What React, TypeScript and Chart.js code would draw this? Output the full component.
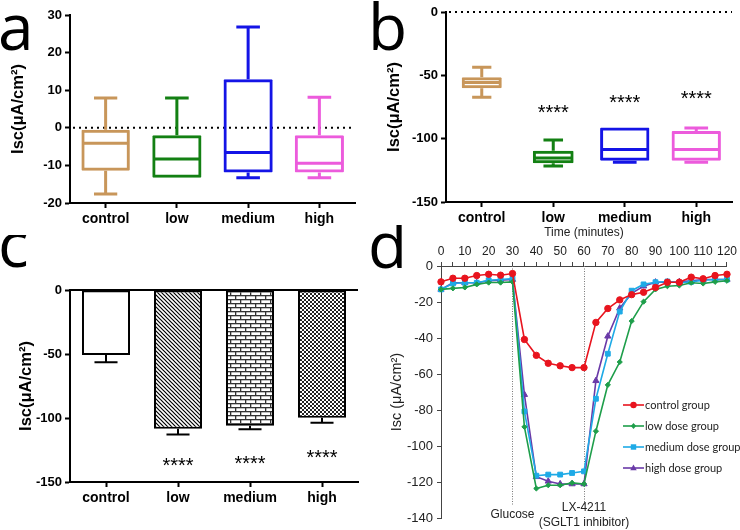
import React, { useEffect, useRef } from "react";
import { Chart, registerables } from "chart.js";
Chart.register(...registerables);

const FONT = "Liberation Sans";
const LETTER_FONT = "Open Sans";
const LEGEND_FONT = "Lato";

// ---------- Panel a (box plot) ----------
const boxCategories = ["control", "low", "medium", "high"];
const boxColors = ["#C8965A", "#138013", "#1414E6", "#EC5BDC"];
const aMin = [-17.6, -13.3, -13.3, -13.3];
const aQ1 = [-11.4, -13.3, -11.9, -11.9];
const aMedian = [-4.1, -8.3, -6.6, -9.4];
const aQ3 = [-0.5, -2.0, 12.9, -2.0];
const aMax = [7.9, 7.9, 26.8, 8.1];
const aWidths = [0.68, 0.69, 0.69, 0.69];

// ---------- Panel b (box plot) ----------
const bMin = [-67.3, -121.5, -118.6, -118.6];
const bQ1 = [-60.2, -119.5, -117.5, -117.5];
const bMedian = [-55.7, -115.3, -108.5, -108.5];
const bQ3 = [-51.5, -109.6, -91.1, -94.0];
const bMax = [-43.6, -101.1, -91.1, -91.6];
const bWidths = [0.56, 0.57, 0.69, 0.69];
const bStars = ["", "****", "****", "****"];
const bStarY = [0, -76.6, -68.7, -65.5];

// ---------- Panel c (bar chart) ----------
const cMean = [-50.7, -108.4, -106.0, -99.8];
const cSem = [5.8, 4.5, 2.8, 3.9];
const cStars = ["", "****", "****", "****"];
const cStarY = [0, -134.4, -133.0, -128.3];

// ---------- Panel d (time course) ----------
const dTime = [0, 5, 10, 15, 20, 25, 30, 35, 40, 45, 50, 55, 60, 65, 70, 75, 80, 85, 90, 95, 100, 105, 110, 115, 120];
const dControl = [-8.8, -6.8, -6.8, -5.3, -4.6, -5.1, -4.2, -40.8, -49.6, -54.0, -55.4, -56.4, -56.4, -31.3, -23.6, -18.8, -15.9, -14.6, -11.9, -9.0, -9.0, -6.2, -7.1, -5.3, -4.6];
const dLow = [-13.0, -12.4, -11.9, -10.2, -9.2, -9.2, -8.8, -89.3, -123.5, -121.7, -121.7, -120.4, -121.0, -91.7, -66.0, -53.3, -30.6, -19.8, -13.0, -11.2, -10.8, -9.3, -9.7, -8.8, -8.2];
const dMedium = [-13.0, -9.7, -9.3, -9.3, -7.9, -7.5, -7.0, -80.7, -116.4, -115.8, -115.8, -114.9, -114.0, -73.7, -48.7, -25.3, -13.7, -10.2, -9.0, -8.6, -9.3, -8.8, -7.9, -7.5, -7.5];
const dHigh = [-13.0, -9.3, -9.3, -9.3, -8.2, -7.9, -7.5, -71.4, -117.0, -119.5, -121.0, -121.0, -121.0, -63.7, -39.0, -23.4, -15.2, -11.2, -9.0, -9.0, -8.8, -8.2, -7.5, -7.5, -7.5];
const dSeriesNames = ["control group", "low dose group", "medium dose group", "high dose group"];
const dColors = ["#E8141E", "#1E9E4A", "#1EAAE6", "#6A3AA8"];
const dPointStyles = ["circle", "rectRot", "rect", "triangle"];
const dPointRadius = [3.2, 2.6, 3.4, 3.6];
const dEvents = [30, 60];
const dEventLabels = [["Glucose"], ["LX-4211", "(SGLT1 inhibitor)"]];

type Build = (ctx: CanvasRenderingContext2D) => any;

function letterPlugin(letter: string, x: number, y: number, size: number) {
  return {
    id: "letter",
    afterDraw(chart: any) {
      const ctx = chart.ctx;
      ctx.save();
      ctx.fillStyle = "#000";
      ctx.font = `${size}px "${LETTER_FONT}"`;
      ctx.textAlign = "left";
      ctx.textBaseline = "alphabetic";
      ctx.fillText(letter, x, y);
      ctx.restore();
    },
  };
}

function drawStars(chart: any, stars: string[], starY: number[]) {
  const { ctx, scales } = chart;
  ctx.save();
  ctx.fillStyle = "#000";
  ctx.font = `20px "${FONT}"`;
  ctx.textAlign = "center";
  ctx.textBaseline = "alphabetic";
  stars.forEach((s, i) => {
    if (!s) return;
    const m = ctx.measureText(s);
    const off = (m.actualBoundingBoxAscent - m.actualBoundingBoxDescent) / 2;
    ctx.fillText(s, scales.x.getPixelForValue(i), scales.y.getPixelForValue(starY[i]) + off);
  });
  ctx.restore();
}

function catAxisX(height: number) {
  return {
    type: "category",
    labels: boxCategories,
    offset: true,
    grid: { drawOnChartArea: false, offset: false, tickLength: 5, tickWidth: 2, color: "#000" },
    border: { display: true, color: "#000", width: 2 },
    ticks: { font: { family: FONT, size: 14, weight: "bold" }, color: "#000", padding: 3, maxRotation: 0 },
    afterFit: (s: any) => {
      s.height = height;
    },
  };
}

function valAxisY(min: number, max: number, step: number, width: number) {
  return {
    min,
    max,
    ticks: { stepSize: step, font: { family: FONT, size: 13, weight: "bold" }, color: "#000", padding: 3 },
    grid: { drawOnChartArea: false, tickLength: 5, tickWidth: 2, color: "#000" },
    border: { display: true, color: "#000", width: 2 },
    title: {
      display: true,
      text: "Isc(μA/cm²)",
      font: { family: FONT, size: 16.5, weight: "bold" },
      color: "#000",
      padding: { top: 3, bottom: 0 },
    },
    afterFit: (s: any) => {
      s.width = width;
    },
  };
}

function boxChart(
  mins: number[], q1: number[], med: number[], q3: number[], maxs: number[], widths: number[],
  yMin: number, yMax: number, step: number, pad: any, yWidth: number, xHeight: number,
  letter: string, stars: string[] | null, starY: number[] | null
): Build {
  return () => ({
    type: "bar",
    data: {
      labels: boxCategories,
      datasets: boxCategories.map((c, i) => ({
        label: c,
        data: boxCategories.map((_, j) => (j === i ? [q1[i], q3[i]] : null)),
        backgroundColor: "rgba(0,0,0,0)",
        borderColor: boxColors[i],
        borderWidth: 3,
        borderSkipped: false,
        borderRadius: 1,
        barPercentage: widths[i],
        categoryPercentage: 1,
        grouped: false,
      })),
    },
    options: {
      responsive: false,
      animation: false,
      layout: { padding: pad },
      plugins: { legend: { display: false }, tooltip: { enabled: false } },
      scales: { x: catAxisX(xHeight), y: valAxisY(yMin, yMax, step, yWidth) },
    },
    plugins: [
      {
        id: "boxExtras",
        beforeDatasetsDraw(chart: any) {
          const { ctx, chartArea, scales } = chart;
          const y0 = scales.y.getPixelForValue(0);
          ctx.save();
          ctx.strokeStyle = "#000";
          ctx.lineWidth = 2;
          ctx.setLineDash([2, 4]);
          ctx.beginPath();
          ctx.moveTo(chartArea.left + 3, y0);
          ctx.lineTo(chartArea.right, y0);
          ctx.stroke();
          ctx.restore();
        },
        afterDatasetsDraw(chart: any) {
          const { ctx, scales } = chart;
          const y = scales.y;
          ctx.save();
          ctx.lineWidth = 3;
          ctx.lineCap = "butt";
          boxCategories.forEach((_, i) => {
            const el = chart.getDatasetMeta(i).data[i];
            const { x: cx, width: w } = el.getProps(["x", "width"], true);
            const cap = w * 0.48;
            ctx.strokeStyle = boxColors[i];
            ctx.beginPath();
            ctx.moveTo(cx - w / 2 + 1, y.getPixelForValue(med[i]));
            ctx.lineTo(cx + w / 2 - 1, y.getPixelForValue(med[i]));
            if (maxs[i] > q3[i] + 0.3) {
              ctx.moveTo(cx, y.getPixelForValue(q3[i]));
              ctx.lineTo(cx, y.getPixelForValue(maxs[i]));
              ctx.moveTo(cx - cap / 2, y.getPixelForValue(maxs[i]));
              ctx.lineTo(cx + cap / 2, y.getPixelForValue(maxs[i]));
            }
            if (mins[i] < q1[i] - 0.3) {
              ctx.moveTo(cx, y.getPixelForValue(q1[i]));
              ctx.lineTo(cx, y.getPixelForValue(mins[i]));
              ctx.moveTo(cx - cap / 2, y.getPixelForValue(mins[i]));
              ctx.lineTo(cx + cap / 2, y.getPixelForValue(mins[i]));
            }
            ctx.stroke();
          });
          ctx.restore();
          if (stars && starY) drawStars(chart, stars, starY);
        },
      },
      letterPlugin(letter, -2, 50, 64),
    ],
  });
}

function makePattern(kind: string, ctx: CanvasRenderingContext2D): any {
  const c = document.createElement("canvas");
  const g = c.getContext("2d")!;
  if (kind === "diag") {
    c.width = 4;
    c.height = 4;
    g.fillStyle = "#fff";
    g.fillRect(0, 0, 4, 4);
    g.strokeStyle = "#000";
    g.lineWidth = 1.2;
    g.beginPath();
    g.moveTo(-1, -1);
    g.lineTo(5, 5);
    g.moveTo(-1, 3);
    g.lineTo(1, 5);
    g.moveTo(3, -1);
    g.lineTo(5, 1);
    g.stroke();
  } else if (kind === "brick") {
    c.width = 10;
    c.height = 8;
    g.fillStyle = "#fff";
    g.fillRect(0, 0, 10, 8);
    g.fillStyle = "#333";
    g.fillRect(0, 0, 10, 1.3);
    g.fillRect(0, 4, 10, 1.3);
    g.fillRect(0, 0, 1.3, 4);
    g.fillRect(5, 4, 1.3, 4);
  } else {
    c.width = 4;
    c.height = 4;
    g.fillStyle = "#fff";
    g.fillRect(0, 0, 4, 4);
    g.fillStyle = "#222";
    g.fillRect(0, 0, 2, 2);
    g.fillRect(2, 2, 2, 2);
  }
  return ctx.createPattern(c, "repeat");
}

const buildC: Build = (ctx) => ({
  type: "bar",
  data: {
    labels: boxCategories,
    datasets: [
      {
        data: cMean,
        backgroundColor: ["#fff", makePattern("diag", ctx), makePattern("brick", ctx), makePattern("check", ctx)],
        borderColor: "#000",
        borderWidth: 2,
        borderSkipped: false,
        barPercentage: 0.667,
        categoryPercentage: 1,
      },
    ],
  },
  options: {
    responsive: false,
    animation: false,
    layout: { padding: { left: 14, right: 12, top: 55, bottom: 18 } },
    plugins: { legend: { display: false }, tooltip: { enabled: false } },
    scales: { x: catAxisX(30), y: valAxisY(-150, 0, 50, 56) },
  },
  plugins: [
    {
      id: "errorBars",
      afterDatasetsDraw(chart: any) {
        const { ctx, chartArea, scales } = chart;
        const meta = chart.getDatasetMeta(0);
        ctx.save();
        ctx.strokeStyle = "#000";
        ctx.lineWidth = 2;
        cMean.forEach((m, i) => {
          const { x: cx, width: w } = meta.data[i].getProps(["x", "width"], true);
          const yb = scales.y.getPixelForValue(m);
          const ye = scales.y.getPixelForValue(m - cSem[i]);
          const cap = w * 0.48;
          ctx.beginPath();
          ctx.moveTo(cx, yb);
          ctx.lineTo(cx, ye);
          ctx.moveTo(cx - cap / 2, ye);
          ctx.lineTo(cx + cap / 2, ye);
          ctx.stroke();
        });
        const y0 = scales.y.getPixelForValue(0);
        ctx.beginPath();
        ctx.moveTo(chartArea.left, y0);
        ctx.lineTo(chartArea.right, y0);
        ctx.stroke();
        ctx.restore();
        drawStars(chart, cStars, cStarY);
      },
    },
    letterPlugin("c", -2, 32, 64),
  ],
});

const dSeries = [dControl, dLow, dMedium, dHigh];

function drawMarker(ctx: CanvasRenderingContext2D, style: string, x: number, y: number, r: number, color: string) {
  ctx.save();
  ctx.fillStyle = color;
  ctx.beginPath();
  if (style === "circle") {
    ctx.arc(x, y, r, 0, Math.PI * 2);
  } else if (style === "rect") {
    ctx.rect(x - r * 0.8, y - r * 0.8, r * 1.6, r * 1.6);
  } else if (style === "rectRot") {
    ctx.moveTo(x, y - r * 1.2);
    ctx.lineTo(x + r, y);
    ctx.lineTo(x, y + r * 1.2);
    ctx.lineTo(x - r, y);
    ctx.closePath();
  } else {
    ctx.moveTo(x, y - r);
    ctx.lineTo(x + r * 0.9, y + r * 0.6);
    ctx.lineTo(x - r * 0.9, y + r * 0.6);
    ctx.closePath();
  }
  ctx.fill();
  ctx.restore();
}

const buildD: Build = () => ({
  type: "line",
  data: {
    datasets: dSeries.map((s, k) => ({
      label: dSeriesNames[k],
      data: dTime.map((t, i) => ({ x: t, y: s[i] })),
      borderColor: dColors[k],
      backgroundColor: dColors[k],
      borderWidth: 1.6,
      pointStyle: dPointStyles[k],
      pointRadius: dPointRadius[k],
      pointBorderWidth: 1,
      tension: 0,
      clip: false,
    })),
  },
  options: {
    responsive: false,
    animation: false,
    layout: { padding: { left: 14, right: 11, top: 0, bottom: 9 } },
    plugins: { legend: { display: false }, tooltip: { enabled: false } },
    scales: {
      x: {
        type: "linear",
        position: "top",
        min: 0,
        max: 120,
        ticks: {
          stepSize: 5,
          autoSkip: false,
          maxRotation: 0,
          font: { family: FONT, size: 12 },
          color: "#222",
          padding: 3,
          callback: (v: number) => (v % 10 === 0 ? String(v) : ""),
        },
        grid: { drawOnChartArea: false, tickLength: 4, color: "#444" },
        border: { display: true, color: "#444", width: 1 },
        title: {
          display: true,
          text: "Time (minutes)",
          font: { family: FONT, size: 12 },
          color: "#222",
          padding: { top: 0, bottom: 2 },
        },
        afterFit: (s: any) => {
          s.height = 41;
        },
      },
      y: {
        min: -140,
        max: 0,
        ticks: { stepSize: 20, font: { family: FONT, size: 13 }, color: "#222", padding: 4 },
        grid: { drawOnChartArea: false, tickLength: 4, color: "#444" },
        border: { display: true, color: "#444", width: 1 },
        title: {
          display: true,
          text: "Isc (μA/cm²)",
          font: { family: FONT, size: 14.5 },
          color: "#222",
          padding: { top: 4, bottom: 0 },
        },
        afterFit: (s: any) => {
          s.width = 57;
        },
      },
    },
  },
  plugins: [
    {
      id: "events",
      beforeDatasetsDraw(chart: any) {
        const { ctx, scales } = chart;
        ctx.save();
        ctx.strokeStyle = "#777";
        ctx.lineWidth = 1;
        ctx.setLineDash([1, 1.5]);
        dEvents.forEach((t) => {
          const x = Math.round(scales.x.getPixelForValue(t)) + 0.5;
          ctx.beginPath();
          ctx.moveTo(x, scales.y.getPixelForValue(0));
          ctx.lineTo(x, scales.y.getPixelForValue(-133));
          ctx.stroke();
        });
        ctx.restore();
      },
      afterDraw(chart: any) {
        const { ctx, chartArea, scales } = chart;
        ctx.save();
        ctx.fillStyle = "#222";
        ctx.font = `12px "${FONT}"`;
        ctx.textAlign = "center";
        ctx.textBaseline = "middle";
        ctx.fillText(dEventLabels[0][0], scales.x.getPixelForValue(dEvents[0]), chartArea.bottom - 4);
        ctx.fillText(dEventLabels[1][0], scales.x.getPixelForValue(dEvents[1]), chartArea.bottom - 11);
        ctx.fillText(dEventLabels[1][1], scales.x.getPixelForValue(dEvents[1]), chartArea.bottom + 4);
        const lx = chartArea.left + 182;
        dSeriesNames.forEach((name, k) => {
          const ly = chartArea.top + 139 + k * 21;
          ctx.strokeStyle = dColors[k];
          ctx.lineWidth = 1.6;
          ctx.beginPath();
          ctx.moveTo(lx, ly);
          ctx.lineTo(lx + 21, ly);
          ctx.stroke();
          drawMarker(ctx, dPointStyles[k], lx + 10.5, ly, dPointRadius[k], dColors[k]);
          ctx.fillStyle = "#222";
          ctx.font = `11px "${LEGEND_FONT}"`;
          ctx.textAlign = "left";
          ctx.fillText(name, lx + 22, ly);
        });
        ctx.restore();
      },
    },
    letterPlugin("d", -2, 43, 64),
  ],
});

const buildA = boxChart(aMin, aQ1, aMedian, aQ3, aMax, aWidths, -20, 30, 10,
  { left: 6, right: 15, top: 15, bottom: 0 }, 64, 32, "a", null, null);
const buildB = boxChart(bMin, bQ1, bMedian, bQ3, bMax, bWidths, -150, 0, 50,
  { left: 12, right: 8, top: 12, bottom: 0 }, 64, 33, "b", bStars, bStarY);

function Panel(props: { left: number; top: number; width: number; height: number; build: Build }) {
  const ref = useRef<HTMLCanvasElement>(null);
  useEffect(() => {
    const cv = ref.current!;
    const chart = new Chart(cv, props.build(cv.getContext("2d")!));
    return () => chart.destroy();
  }, []);
  const { left, top, width, height } = props;
  return (
    <div style={{ position: "absolute", left, top, width, height }}>
      <canvas ref={ref} width={width} height={height} style={{ width, height, display: "block" }} />
    </div>
  );
}

export default function App() {
  return (
    <div style={{ position: "fixed", left: 0, top: 0, width: 740, height: 530, background: "#fff", overflow: "hidden" }}>
      <Panel left={0} top={0} width={370} height={235} build={buildA} />
      <Panel left={370} top={0} width={370} height={235} build={buildB} />
      <Panel left={0} top={235} width={370} height={295} build={buildC} />
      <Panel left={370} top={225} width={370} height={305} build={buildD} />
    </div>
  );
}
